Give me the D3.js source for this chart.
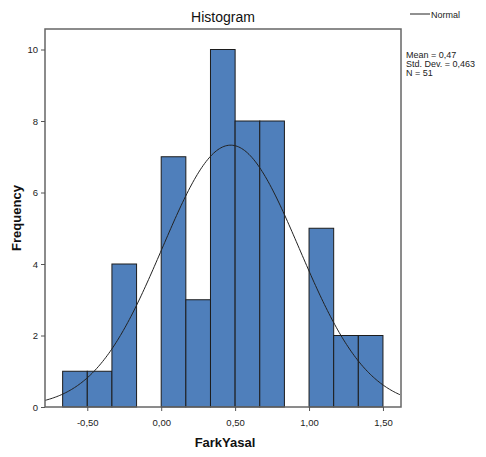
<!DOCTYPE html>
<html>
<head>
<meta charset="utf-8">
<script src="https://cdn.jsdelivr.net/npm/d3@7"></script>
<style>
  body { margin: 0; background: #fff; }
  svg { font-family: "Liberation Sans", Arial, sans-serif; }
</style>
</head>
<body>
<div id="chart"></div>
<script>
// Data
const binStarts = [-0.6667, -0.5, -0.3333, -0.1667, 0, 0.1667, 0.3333, 0.5, 0.6667, 0.8333, 1.0, 1.1667, 1.3333];
const binCounts = [1, 1, 4, 0, 7, 3, 10, 8, 8, 0, 5, 2, 2];
const binWidth = 0.16667;
const xTicks = [-0.5, 0, 0.5, 1.0, 1.5];
const yTicks = [0, 2, 4, 6, 8, 10];
const statsLines = ["Mean = 0,47", "Std. Dev. = 0,463", "N = 51"];
const mean = 0.47, sd = 0.463, n = 51;

// Set up the dimensions
const W = 486, H = 457;
const plot = {left: 45, right: 401, top: 29, bottom: 407};

const svg = d3.select("#chart").append("svg")
    .attr("width", W).attr("height", H);

const x = d3.scaleLinear().domain([-0.786, 1.622]).range([plot.left, plot.right]);
const y = d3.scaleLinear().domain([0, 10]).range([plot.bottom, 49.5]);

// Bars
svg.selectAll(".bar")
    .data(binStarts.map((s, i) => ({s, c: binCounts[i]})).filter(d => d.c > 0))
    .enter().append("rect")
    .attr("class", "bar")
    .attr("x", d => x(d.s))
    .attr("width", d => x(d.s + binWidth) - x(d.s))
    .attr("y", d => y(d.c))
    .attr("height", d => y(0) - y(d.c))
    .attr("fill", "#4f7fbb")
    .attr("stroke", "#1c1c1c")
    .attr("stroke-width", 1);

// Normal curve
const fmt = d3.formatLocale({decimal: ",", thousands: ".", grouping: [3], currency: ["", ""], minus: "-"});
const pts = d3.range(x.domain()[0], x.domain()[1] + 0.001, 0.01).map(v => [v,
    n * binWidth / (sd * Math.sqrt(2 * Math.PI)) * Math.exp(-0.5 * ((v - mean) / sd) ** 2)]);
svg.append("path")
    .datum(pts)
    .attr("fill", "none")
    .attr("stroke", "#222")
    .attr("stroke-width", 1)
    .attr("d", d3.line().x(d => x(d[0])).y(d => y(d[1])));

// Frame
svg.append("rect")
    .attr("x", plot.left).attr("y", plot.top)
    .attr("width", plot.right - plot.left).attr("height", plot.bottom - plot.top)
    .attr("fill", "none").attr("stroke", "#666").attr("stroke-width", 1.5);

// Axes
const xAxis = svg.append("g")
    .attr("transform", `translate(0,${plot.bottom})`)
    .call(d3.axisBottom(x).tickValues(xTicks).tickSize(4).tickFormat(fmt.format(".2f")));
const yAxis = svg.append("g")
    .attr("transform", `translate(${plot.left},0)`)
    .call(d3.axisLeft(y).tickValues(yTicks).tickSize(4).tickFormat(d3.format("d")));
[xAxis, yAxis].forEach(a => {
    a.select(".domain").remove();
    a.selectAll("line").attr("stroke", "#555");
    a.selectAll("text").style("font-size", "9.5px").attr("fill", "#222")
        .style("font-family", "Liberation Sans, Arial, sans-serif");
});
xAxis.selectAll("text").attr("dy", "1.3em");

// Titles
svg.append("text")
    .attr("x", (plot.left + plot.right) / 2).attr("y", 22)
    .attr("text-anchor", "middle")
    .style("font-size", "14px").attr("fill", "#111")
    .text("Histogram");

svg.append("text")
    .attr("x", (plot.left + plot.right) / 2 + 2).attr("y", 447)
    .attr("text-anchor", "middle")
    .style("font-size", "13px").style("font-weight", "bold").attr("fill", "#111")
    .text("FarkYasal");

svg.append("text")
    .attr("transform", `translate(21,${(plot.top + plot.bottom) / 2}) rotate(-90)`)
    .attr("text-anchor", "middle")
    .style("font-size", "13px").style("font-weight", "bold").attr("fill", "#111")
    .text("Frequency");

// Legend
svg.append("line")
    .attr("x1", 410).attr("x2", 430).attr("y1", 14).attr("y2", 14)
    .attr("stroke", "#222").attr("stroke-width", 1);
svg.append("text")
    .attr("x", 431).attr("y", 17.5)
    .style("font-size", "9px").attr("fill", "#222")
    .text("Normal");

svg.selectAll(".stat")
    .data(statsLines)
    .enter().append("text")
    .attr("class", "stat")
    .attr("x", 406).attr("y", (d, i) => 58 + i * 9)
    .style("font-size", "9px").attr("fill", "#222")
    .text(d => d);
</script>
</body>
</html>
